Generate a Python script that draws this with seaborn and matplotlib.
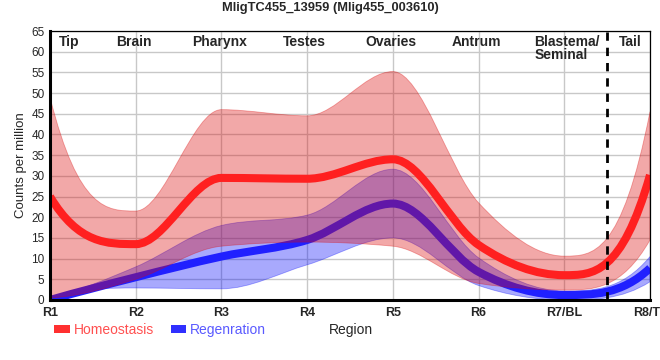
import numpy as np
import matplotlib
matplotlib.use("Agg")
import matplotlib.pyplot as plt
from matplotlib.path import Path
from matplotlib.patches import PathPatch, Patch
import seaborn as sns

# regions along the body axis
regions = ['R1', 'R2', 'R3', 'R4', 'R5', 'R6', 'R7/BL', 'R8/TL']
region_pos = [1, 2, 3, 4, 5, 6, 7, 8]

# homeostasis: mean and band
homeo_mean = [25, 13.5, 29.5, 29.3, 34, 13.3, 6, 30.2]
homeo_upper = [49, 21.5, 46, 44.5, 55.2, 23.5, 10.6, 45.5]
homeo_lower = [0.5, 5, 13, 14, 13, 4, 2.4, 14.5]

# regeneration: mean and band
regen_mean = [0, 5.5, 10.5, 14.5, 23.3, 6.8, 1.2, 7.7]
regen_upper = [0.5, 8, 18, 20.5, 31.6, 10.2, 2.2, 10.5]
regen_lower = [0, 2.9, 2.7, 8.5, 15, 3.5, 0, 4.4]

# anatomy labels on top
anatomy = ['Tip', 'Brain', 'Pharynx', 'Testes', 'Ovaries', 'Antrum', 'Blastema/\nSeminal', 'Tail']
anatomy_pos = [1.22, 1.98, 2.98, 3.97, 4.98, 5.98, 6.65, 7.77]
anatomy_ha = ['center'] * 6 + ['left', 'center']


def end_tangent(s, t_adj):
    t = 3 * s - 2 * t_adj
    if s == 0:
        return 0.0
    if np.sign(t) != np.sign(s):
        return 0.0
    return float(np.sign(s) * min(abs(t), 3 * abs(s)))


def monotone_tangents(x, y):
    # monotone cubic slopes, flat at local extremes
    x = np.asarray(x, float)
    y = np.asarray(y, float)
    n = len(x)
    t = np.zeros(n)
    for i in range(1, n - 1):
        h0 = x[i] - x[i - 1]
        h1 = x[i + 1] - x[i]
        s0 = (y[i] - y[i - 1]) / h0
        s1 = (y[i + 1] - y[i]) / h1
        p = (s0 * h1 + s1 * h0) / (h0 + h1)
        t[i] = (np.sign(s0) + np.sign(s1)) * min(abs(s0), abs(s1), 0.5 * abs(p))
    t[0] = end_tangent((y[1] - y[0]) / (x[1] - x[0]), t[1])
    t[-1] = end_tangent((y[-1] - y[-2]) / (x[-1] - x[-2]), t[-2])
    return t


def bezier_segments(x, y):
    t = monotone_tangents(x, y)
    verts = [(x[0], y[0])]
    codes = [Path.MOVETO]
    for i in range(len(x) - 1):
        dx = (x[i + 1] - x[i]) / 3
        verts += [(x[i] + dx, y[i] + dx * t[i]),
                  (x[i + 1] - dx, y[i + 1] - dx * t[i + 1]),
                  (x[i + 1], y[i + 1])]
        codes += [Path.CURVE4] * 3
    return verts, codes


def curve_path(x, y):
    verts, codes = bezier_segments(x, y)
    return Path(verts, codes)


def band_path(x, lo, hi):
    v1, c1 = bezier_segments(x, hi)
    v2, c2 = bezier_segments(x, lo)
    v2 = v2[::-1]
    verts = v1 + v2 + [v1[0]]
    codes = c1 + [Path.LINETO] + [Path.CURVE4] * (len(v2) - 1) + [Path.CLOSEPOLY]
    return Path(verts, codes)


sns.set_style("whitegrid", {"grid.color": "#c8c8c8", "axes.edgecolor": "black"})
plt.rcParams['font.family'] = ['Liberation Sans', 'DejaVu Sans']

fig = plt.figure(figsize=(6.6, 3.6), dpi=100)
ax = fig.add_axes([50 / 660, 60 / 360, 600 / 660, 269 / 360])

red_band = (0.86, 0.03, 0.03)
blue_band = (0.0, 0.02, 0.98)

ax.add_patch(PathPatch(band_path(region_pos, regen_lower, regen_upper),
                       facecolor=blue_band, alpha=0.34, edgecolor=blue_band, lw=0.6, zorder=2))
ax.add_patch(PathPatch(curve_path(region_pos, regen_mean), facecolor='none',
                       edgecolor='#2020ff', lw=5.8, capstyle='butt', zorder=3))
ax.add_patch(PathPatch(band_path(region_pos, homeo_lower, homeo_upper),
                       facecolor=red_band, alpha=0.35, edgecolor=red_band, lw=0.6, zorder=4))
ax.add_patch(PathPatch(curve_path(region_pos, homeo_mean), facecolor='none',
                       edgecolor='#ff2020', lw=5.8, capstyle='butt', zorder=5))

ax.axvline(7.5, color='black', lw=2, ls=(0, (3, 2.5)), zorder=6)

ax.set_xlim(1, 8)
ax.set_ylim(0, 65)
ax.set_xticks(region_pos)
ax.set_xticklabels(regions, fontweight='bold', fontsize=9)
ax.set_yticks(np.arange(0, 66, 5))
ax.tick_params(axis='y', labelsize=8.5, length=3, pad=1, color='black')
ax.tick_params(axis='x', length=4, pad=1, color='black', width=1)
ax.grid(True, lw=1)
ax.set_axisbelow(True)

for side in ['top', 'right']:
    ax.spines[side].set_linewidth(0.9)
for side in ['left', 'bottom']:
    ax.spines[side].set_linewidth(2.2)
for s in ax.spines.values():
    s.set_color('black')
    s.set_zorder(7)

for name, xp, ha in zip(anatomy, anatomy_pos, anatomy_ha):
    ax.text(xp, 64.1, name, ha=ha, va='top', fontsize=10, fontweight='bold',
            linespacing=0.95, zorder=8)

ax.set_ylabel('Counts per million', fontsize=9.5, labelpad=3)
fig.text(351 / 660, 1 - 330 / 360, 'Region', ha='center', va='center', fontsize=10)
fig.suptitle('MligTC455_13959 (Mlig455_003610)', fontsize=9.3, fontweight='bold',
             x=0.5, y=1 - 8 / 360, va='center')

handles = [Patch(facecolor='#ff3030', edgecolor='none'),
           Patch(facecolor='#3030ff', edgecolor='none')]
fig.legend(handles, ['Homeostasis', 'Regenration'], loc='center left',
           bbox_to_anchor=(42 / 660, 1 - 330 / 360), ncol=2, frameon=False,
           fontsize=10, handlelength=1.1, handleheight=0.45, handletextpad=0.3,
           columnspacing=1.2, labelcolor=['#ff5050', '#5a5aff'])

fig.savefig('out.png', dpi=100)
